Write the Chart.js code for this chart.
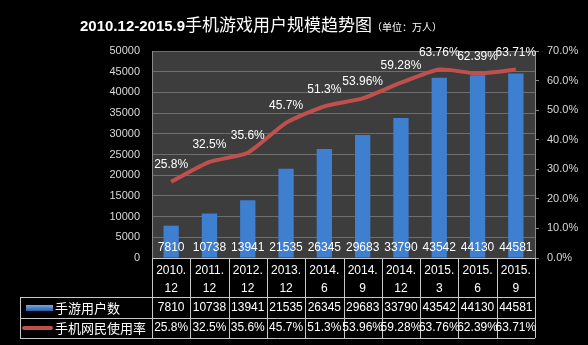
<!DOCTYPE html>
<html>
<head>
<meta charset="utf-8">
<script src="https://cdn.jsdelivr.net/npm/chart.js@4.4.1/dist/chart.umd.min.js"></script>
<style>
  html, body { margin: 0; padding: 0; background: #000; }
  #wrap { position: relative; width: 588px; height: 345px; }
  #title { position: absolute; top: 11px; left: 80px; color: #fff; white-space: nowrap; line-height: 24px; }
  #title .en { font: bold 15px 'Liberation Sans', sans-serif; }
  #title .zh { font: 17px 'Noto Sans CJK SC', sans-serif; }
  #title .unit { font: 10px 'Noto Sans CJK SC', sans-serif; }
</style>
</head>
<body>
<div id="wrap">
  <canvas id="chart" width="588" height="345"></canvas>
  <div id="title"><span class="en">2010.12-2015.9</span><span class="zh">手机游戏用户规模趋势图</span><span class="unit">（单位：万人）</span></div>
</div>
<script>
// categories (two-line labels like the excel table header)
const categories = [['2010.','12'],['2011.','12'],['2012.','12'],['2013.','12'],['2014.','6'],
                    ['2014.','9'],['2014.','12'],['2015.','3'],['2015.','6'],['2015.','9']];
const users = [7810, 10738, 13941, 21535, 26345, 29683, 33790, 43542, 44130, 44581];   // 手游用户数 (万人)
const rates = [25.8, 32.5, 35.6, 45.7, 51.3, 53.96, 59.28, 63.76, 62.39, 63.71];      // 手机网民使用率 (%)
const seriesNames = ['手游用户数', '手机网民使用率'];

const labelFont = "12px 'Liberation Sans', sans-serif";
const cjkFont = "13px 'Noto Sans CJK SC', sans-serif";

function barGradient(ctx, x0, x1) {
    const g = ctx.createLinearGradient(x0, 0, x1, 0);
    g.addColorStop(0, '#1f4f95');
    g.addColorStop(0.45, '#5a9ae6');
    g.addColorStop(1, '#1f4f95');
    return g;
}

// plot background
const plotBg = {
    id: 'plotBg',
    beforeDraw(chart) {
        const {ctx, chartArea: a} = chart;
        ctx.save();
        ctx.fillStyle = '#3d3d3d';
        ctx.fillRect(a.left, a.top, a.right - a.left, a.bottom - a.top);
        ctx.restore();
    }
};

// value labels on bars and line + data table under the chart
const labelsAndTable = {
    id: 'labelsAndTable',
    afterDatasetsDraw(chart) {
        const ctx = chart.ctx;
        const a = chart.chartArea;
        ctx.save();
        ctx.fillStyle = '#ffffff';
        ctx.font = labelFont;
        ctx.textAlign = 'center';
        ctx.textBaseline = 'middle';
        chart.getDatasetMeta(1).data.forEach((bar, i) => {
            ctx.fillText(String(users[i]), bar.x, a.bottom - 10);
        });
        chart.getDatasetMeta(0).data.forEach((pt, i) => {
            ctx.fillText(rates[i] + '%', pt.x, pt.y - 17);
        });
        ctx.restore();
    },
    afterDraw(chart) {
        const ctx = chart.ctx;
        const a = chart.chartArea;
        const n = categories.length;
        const colW = (a.right - a.left) / n;
        const tableLeft = 20;
        const row1 = a.bottom + 39, row2 = row1 + 21, row3 = row2 + 20;

        ctx.save();
        ctx.strokeStyle = '#c8c8c8';
        ctx.lineWidth = 1;
        ctx.beginPath();
        ctx.moveTo(a.left, a.bottom + 0.5); ctx.lineTo(a.right, a.bottom + 0.5);
        [row1, row2, row3].forEach(y => { ctx.moveTo(tableLeft, y + 0.5); ctx.lineTo(a.right, y + 0.5); });
        ctx.moveTo(tableLeft + 0.5, row1); ctx.lineTo(tableLeft + 0.5, row3);
        for (let i = 0; i <= n; i++) {
            const x = Math.round(a.left + i * colW) + 0.5;
            ctx.moveTo(x, a.bottom); ctx.lineTo(x, row3);
        }
        ctx.stroke();

        // legend keys
        const kg = ctx.createLinearGradient(0, row1 + 7, 0, row1 + 14);
        kg.addColorStop(0, '#7fb4f0'); kg.addColorStop(1, '#2a5ea8');
        ctx.fillStyle = kg;
        ctx.fillRect(26, row1 + 8, 27, 6);
        ctx.strokeStyle = '#c0504d';
        ctx.lineWidth = 4;
        ctx.lineCap = 'round';
        ctx.beginPath();
        ctx.moveTo(24, row2 + 10); ctx.lineTo(51, row2 + 10);
        ctx.stroke();

        ctx.fillStyle = '#ffffff';
        ctx.textBaseline = 'middle';
        ctx.textAlign = 'left';
        ctx.font = cjkFont;
        ctx.fillText(seriesNames[0], 55, row1 + 11);
        ctx.fillText(seriesNames[1], 55, row2 + 10);

        ctx.textAlign = 'center';
        ctx.font = labelFont;
        for (let i = 0; i < n; i++) {
            const cx = chart.scales.x.getPixelForTick(i);
            ctx.fillText(String(users[i]), cx, row1 + 11);
            ctx.fillText(rates[i] + '%', cx, row2 + 10);
        }
        ctx.restore();
    }
};

new Chart(document.getElementById('chart'), {
    data: {
        labels: categories,
        datasets: [
            {
                type: 'line',
                label: seriesNames[1],
                data: rates,
                yAxisID: 'y1',
                borderColor: '#c0504d',
                borderWidth: 4,
                pointRadius: 0,
                tension: 0.2,
                order: 0
            },
            {
                type: 'bar',
                label: seriesNames[0],
                data: users,
                yAxisID: 'y',
                backgroundColor: (c) => {
                    const el = c.element;
                    if (!el || !el.width) return '#3f7fd0';
                    return barGradient(c.chart.ctx, el.x - el.width / 2, el.x + el.width / 2);
                },
                borderWidth: 0,
                barPercentage: 0.4,
                categoryPercentage: 1,
                order: 1
            }
        ]
    },
    options: {
        responsive: false,
        animation: false,
        layout: { padding: { top: 51, left: 0, right: 0, bottom: 0 } },
        plugins: {
            legend: { display: false },
            title: { display: false },
            tooltip: { enabled: false }
        },
        scales: {
            x: {
                grid: { display: false, drawTicks: false },
                border: { display: false },
                ticks: {
                    color: '#ffffff',
                    font: { family: "'Liberation Sans', sans-serif", size: 12, lineHeight: 1.5 },
                    padding: 4,
                    maxRotation: 0,
                    autoSkip: false
                },
                afterFit(scale) { scale.height = 87; }
            },
            y: {
                position: 'left',
                min: 0,
                max: 50000,
                ticks: {
                    stepSize: 5000,
                    color: '#d9d9d9',
                    font: { family: "'Liberation Sans', sans-serif", size: 11 },
                    padding: 12,
                    callback: (v) => String(v)
                },
                grid: { color: '#6e6e6e', drawTicks: false },
                border: { color: '#8a8a8a' },
                afterFit(scale) { scale.width = 152; }
            },
            y1: {
                position: 'right',
                min: 0,
                max: 70,
                ticks: {
                    stepSize: 10,
                    color: '#d9d9d9',
                    font: { family: "'Liberation Sans', sans-serif", size: 11 },
                    padding: 8,
                    callback: (v) => v.toFixed(1) + '%'
                },
                grid: { drawOnChartArea: false, color: '#8a8a8a', tickLength: 4 },
                border: { color: '#8a8a8a' },
                afterFit(scale) { scale.width = 53; }
            }
        }
    },
    plugins: [plotBg, labelsAndTable]
});
</script>
</body>
</html>
